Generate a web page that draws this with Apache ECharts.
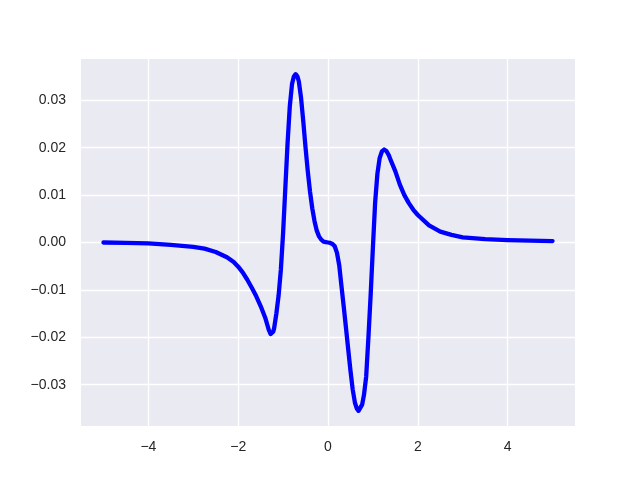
<!DOCTYPE html>
<html lang="en">
<head>
    <meta charset="UTF-8">
    <title>curve</title>
    <script src="https://cdn.jsdelivr.net/npm/echarts@6/dist/echarts.min.js"></script>
</head>
<body style="margin:0">
    <div id="main" style="width: 640px;height:480px;"></div>
    <script>

// x positions
var xs = [
    -5.0, -4.5, -4.0, -3.5, -3.0, -2.75, -2.5, -2.25, -2.1, -2.0,
    -1.9, -1.8, -1.7, -1.6, -1.5, -1.4, -1.35, -1.32, -1.28, -1.25,
    -1.22, -1.2, -1.15, -1.1, -1.05, -1.0, -0.95, -0.9, -0.85, -0.8,
    -0.76, -0.74, -0.72, -0.7, -0.68, -0.65, -0.6, -0.55, -0.5, -0.45,
    -0.4, -0.35, -0.3, -0.25, -0.2, -0.15, -0.1, -0.05, 0.0, 0.05,
    0.1, 0.15, 0.2, 0.25, 0.3, 0.35, 0.4, 0.45, 0.5, 0.55,
    0.6, 0.64, 0.66, 0.68, 0.7, 0.72, 0.76, 0.8, 0.85, 0.9,
    0.95, 1.0, 1.05, 1.1, 1.15, 1.2, 1.25, 1.3, 1.35, 1.4,
    1.5, 1.6, 1.7, 1.8, 1.9, 2.0, 2.25, 2.5, 2.75, 3.0,
    3.5, 4.0, 4.5, 5.0
];
var ys = [
    0.0000, -0.0001, -0.0002, -0.0005, -0.0009, -0.0013, -0.0020, -0.0031, -0.0041, -0.0051,
    -0.0063, -0.0078, -0.0095, -0.0113, -0.0134, -0.0158, -0.0174, -0.0184, -0.0193, -0.0193,
    -0.0188, -0.0181, -0.0150, -0.0112, -0.0058, 0.0020, 0.0115, 0.0210, 0.0288, 0.0335,
    0.0350, 0.0354, 0.0355, 0.0354, 0.0350, 0.0340, 0.0305, 0.0255, 0.0200, 0.0150,
    0.0107, 0.0072, 0.0045, 0.0025, 0.0013, 0.0006, 0.0002, 0.0001, 0.0000, -0.0001,
    -0.0003, -0.0008, -0.0022, -0.0048, -0.0092, -0.0135, -0.0180, -0.0225, -0.0270, -0.0310,
    -0.0338, -0.0350, -0.0353, -0.0355, -0.0355, -0.0353, -0.0342, -0.0322, -0.0283, -0.0200,
    -0.0110, -0.0010, 0.0085, 0.0145, 0.0178, 0.0192, 0.0196, 0.0193, 0.0185, 0.0173,
    0.0150, 0.0122, 0.0100, 0.0083, 0.0069, 0.0058, 0.0036, 0.0023, 0.0016, 0.0011,
    0.0007, 0.0005, 0.0004, 0.0003
];
var xTicks = [-4, -2, 0, 2, 4];
var yTicks = [-0.03, -0.02, -0.01, 0, 0.01, 0.02, 0.03];

var points = xs.map(function (x, i) { return [x, ys[i]]; });

// matplotlib style minus sign
function minus(s) { return String(s).replace('-', '\u2212'); }

var labelStyle = {
    color: '#262626',
    fontFamily: 'Liberation Sans, Arial, sans-serif',
    fontSize: 14
};

var option = {
    animation: false,
    backgroundColor: '#ffffff',
    grid: {
        left: 81,
        right: 65,
        top: 59,
        bottom: 54,
        show: true,
        backgroundColor: '#eaeaf2',
        borderWidth: 0
    },
    xAxis: {
        type: 'value',
        min: -5.5,
        max: 5.5,
        axisLine: {show: false},
        axisTick: {show: false, customValues: xTicks},
        axisLabel: Object.assign({
            customValues: xTicks,
            margin: 14,
            formatter: function (v) { return minus(v); }
        }, labelStyle),
        splitLine: {show: true, lineStyle: {color: '#ffffff', width: 1.3}}
    },
    yAxis: {
        type: 'value',
        min: -0.0387,
        max: 0.0387,
        axisLine: {show: false},
        axisTick: {show: false, customValues: yTicks},
        axisLabel: Object.assign({
            customValues: yTicks,
            margin: 15,
            formatter: function (v) { return minus(v.toFixed(2)); }
        }, labelStyle),
        splitLine: {show: true, lineStyle: {color: '#ffffff', width: 1.3}}
    },
    series: [
        {
            type: 'line',
            data: points,
            showSymbol: false,
            smooth: false,
            lineStyle: {color: '#0000ff', width: 4.3, cap: 'round', join: 'round'}
        }
    ]
};

var myChart = echarts.init(document.getElementById('main'));
myChart.setOption(option);

    </script>
</body>
</html>
